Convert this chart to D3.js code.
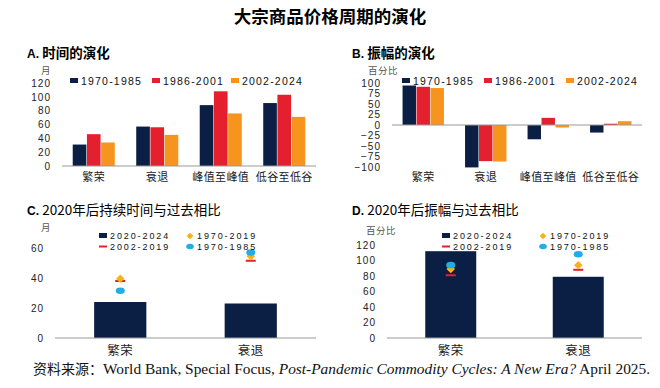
<!DOCTYPE html>
<html>
<head>
<meta charset="utf-8">
<script src="https://cdn.jsdelivr.net/npm/d3@7"></script>
<style>
  body { margin: 0; background: #fff; }
  svg { display: block; }
  .tick text { font-family: "Liberation Sans", Arial, sans-serif; font-size: 10px; letter-spacing: 1px; fill: #222; }
</style>
</head>
<body>
<svg id="chart" width="660" height="388"></svg>
<script>
// ---- data ----
const cycleCats = ['繁荣', '衰退', '峰值至峰值', '低谷至低谷']
const periodNames = ['1970-1985', '1986-2001', '2002-2024']
const durationA = [[31, 57, 88, 91], [46, 56, 108, 103], [34, 45, 76, 71]]   // 月
const amplitudeB = [[94, -101, -34, -18], [91, -86, 17, 3], [88, -87, -6, 9]] // 百分比
const periodColors = ['#0b1f45', '#e5202e', '#f7941d']

const recentCats = ['繁荣', '衰退']
const recentNames = ['2020-2024', '1970-2019', '2002-2019', '1970-1985']
const durBar = [24, 23]
const dur19702019 = [39.5, 54.5]
const dur20022019 = [38, 51.5]
const dur19701985 = [31.5, 57]
const ampBar = [112, 79]
const amp19702019 = [89, 94]
const amp20022019 = [81, 88]
const amp19701985 = [94, 108]

const svg = d3.select('#chart')
const sansCJK = '"Noto Sans CJK SC", sans-serif'
const latin = '"Liberation Sans", Arial, sans-serif'

svg.append('text').attr('x', 330).attr('y', 23).attr('text-anchor', 'middle')
  .style('font-family', sansCJK).style('font-size', '17.5px').style('font-weight', 'bold')
  .text('大宗商品价格周期的演化')

function panelTitle(x, y, letter, txt, bold) {
  const t = svg.append('text').attr('x', x).attr('y', y)
  t.append('tspan').style('font-family', latin).style('font-weight', 'bold').style('font-size', '12px').text(letter + ' ')
  t.append('tspan').style('font-family', sansCJK).style('font-weight', bold ? 'bold' : 'normal')
    .style('font-size', '13.5px').text(txt)
}

function unitLabel(x, y, txt) {
  svg.append('text').attr('x', x).attr('y', y).attr('text-anchor', 'middle')
    .style('font-family', sansCJK).style('font-size', '9.5px').style('letter-spacing', '0.5px')
    .style('fill', '#555').text(txt)
}

function yAxis(y, x0, ticks) {
  const g = svg.append('g').attr('transform', `translate(${x0},0)`)
    .call(d3.axisLeft(y).tickValues(ticks).tickSize(0).tickPadding(0))
  g.select('.domain').remove()
}

function catLabels(x, cats, y, size) {
  svg.append('g').selectAll('text').data(cats).join('text')
    .attr('x', d => x(d) + x.bandwidth() / 2).attr('y', y).attr('text-anchor', 'middle')
    .style('font-family', sansCJK).style('font-size', size + 'px').style('letter-spacing', '0.4px')
    .style('fill', '#222').text(d => d)
}

function legendItem(g, x, y, kind, color, label, big) {
  if (kind === 'rect') g.append('rect').attr('x', x).attr('y', y - 3).attr('width', 8).attr('height', 5).attr('fill', color)
  if (kind === 'line') g.append('rect').attr('x', x).attr('y', y - 1).attr('width', 8).attr('height', 2).attr('fill', color)
  if (kind === 'diamond') g.append('path').attr('d', d3.symbol(d3.symbolDiamond, 20)()).attr('transform', `translate(${x + 4},${y}) scale(1.4,0.8)`).attr('fill', color)
  if (kind === 'dot') g.append('ellipse').attr('cx', x + 4).attr('cy', y).attr('rx', 3.8).attr('ry', 2.8).attr('fill', color)
  g.append('text').attr('x', x + 11).attr('y', y + (big ? 3.8 : 3.3)).style('font-family', latin)
    .style('font-size', big ? '10.5px' : '9px')
    .style('letter-spacing', big ? '1.2px' : '1.9px').style('fill', '#111').text(label)
}

// ---- grouped bar panels (A, B) ----
function groupedPanel(opt) {
  const x = d3.scaleBand().domain(cycleCats).range([opt.x0, opt.x1]).paddingInner(0.32).paddingOuter(0.16)
  const xs = d3.scaleBand().domain(periodNames).range([0, x.bandwidth()]).padding(0.04)
  const y = d3.scaleLinear().domain(opt.domain).range([opt.yBottom, opt.yTop])

  yAxis(y, opt.tickX, opt.ticks)

  periodNames.forEach((p, i) => {
    svg.append('g').selectAll('rect').data(opt.values[i]).join('rect')
      .attr('x', (d, j) => x(cycleCats[j]) + xs(p))
      .attr('width', xs.bandwidth())
      .attr('y', d => y(Math.max(0, d)))
      .attr('height', d => Math.abs(y(d) - y(0)))
      .attr('fill', periodColors[i])
  })

  svg.append('line').attr('x1', opt.x0).attr('x2', opt.x1).attr('y1', y(0)).attr('y2', y(0))
    .attr('stroke', '#999').attr('stroke-width', 1.2)

  const lg = svg.append('g')
  periodNames.forEach((p, i) => legendItem(lg, opt.legendX[i], opt.legendY, 'rect', periodColors[i], p, true))
  catLabels(x, cycleCats, 181, 11)
}

panelTitle(27, 58, 'A.', '时间的演化', true)
unitLabel(46, 74, '月')
groupedPanel({
  x0: 62, x1: 316, yBottom: 166, yTop: 83, domain: [0, 120], ticks: d3.range(0, 121, 20),
  tickX: 51, values: durationA, legendX: [70, 152, 231], legendY: 81
})

panelTitle(352, 58, 'B.', '振幅的演化', true)
unitLabel(383, 74, '百分比')
groupedPanel({
  x0: 392, x1: 642, yBottom: 167, yTop: 83, domain: [-100, 100], ticks: d3.range(-100, 101, 25),
  tickX: 381, values: amplitudeB, legendX: [402, 484, 566], legendY: 81
})

// ---- bar + marker panels (C, D) ----
function recentPanel(opt) {
  const x = d3.scaleBand().domain(recentCats).range([opt.x0, opt.x1]).paddingInner(0.6).paddingOuter(0.3)
  const y = d3.scaleLinear().domain(opt.domain).range([338, opt.yTop])
  const cx = d => x(d) + x.bandwidth() / 2

  yAxis(y, opt.tickX, opt.ticks)

  svg.append('g').selectAll('rect').data(opt.bars).join('rect')
    .attr('x', (d, i) => x(recentCats[i])).attr('width', x.bandwidth())
    .attr('y', d => y(d)).attr('height', d => y(0) - y(d)).attr('fill', '#0b1f45')

  svg.append('line').attr('x1', opt.x0).attr('x2', opt.x1).attr('y1', y(0)).attr('y2', y(0))
    .attr('stroke', '#999').attr('stroke-width', 1.2)

  svg.append('g').selectAll('rect').data(opt.mid).join('rect')
    .attr('x', (d, i) => cx(recentCats[i]) - 5).attr('y', d => y(d) - 1)
    .attr('width', 10).attr('height', 2).attr('fill', '#e5202e')
  svg.append('g').selectAll('path').data(opt.all).join('path')
    .attr('d', d3.symbol(d3.symbolDiamond, 28)())
    .attr('transform', (d, i) => `translate(${cx(recentCats[i])},${y(d)}) scale(1.5,0.85)`)
    .attr('fill', '#f5b31a')
  svg.append('g').selectAll('ellipse').data(opt.early).join('ellipse')
    .attr('cx', (d, i) => cx(recentCats[i])).attr('cy', d => y(d))
    .attr('rx', 4.5).attr('ry', 3.3).attr('fill', '#20aee6')

  const lg = svg.append('g')
  legendItem(lg, opt.legendX[0], 236, 'rect', '#0b1f45', recentNames[0])
  legendItem(lg, opt.legendX[1], 236, 'diamond', '#f5b31a', recentNames[1])
  legendItem(lg, opt.legendX[0], 246.5, 'line', '#e5202e', recentNames[2])
  legendItem(lg, opt.legendX[1], 246.5, 'dot', '#20aee6', recentNames[3])

  catLabels(x, recentCats, 355, 12.5)
}

panelTitle(27, 215, 'C.', '2020年后持续时间与过去相比', false)
unitLabel(46, 231, '月')
recentPanel({
  x0: 55, x1: 316, yTop: 248, domain: [0, 60], ticks: [0, 20, 40, 60], tickX: 44,
  bars: durBar, all: dur19702019, mid: dur20022019, early: dur19701985, legendX: [99, 186]
})

panelTitle(352, 215, 'D.', '2020年后振幅与过去相比', false)
unitLabel(381, 234, '百分比')
recentPanel({
  x0: 387, x1: 642, yTop: 245, domain: [0, 120], ticks: d3.range(0, 121, 20), tickX: 376,
  bars: ampBar, all: amp19702019, mid: amp20022019, early: amp19701985, legendX: [442, 539]
})

// ---- source ----
const src = svg.append('text').attr('x', 33).attr('y', 374)
  .style('font-family', '"Liberation Serif", "Times New Roman", serif').style('font-size', '15.4px').style('fill', '#111')
src.append('tspan').style('font-family', sansCJK).style('font-size', '14px').text('资料来源：')
src.append('tspan').text('World Bank, Special Focus, ')
src.append('tspan').style('font-style', 'italic').text('Post-Pandemic Commodity Cycles: A New Era?')
src.append('tspan').text(' April 2025.')
</script>
</body>
</html>
